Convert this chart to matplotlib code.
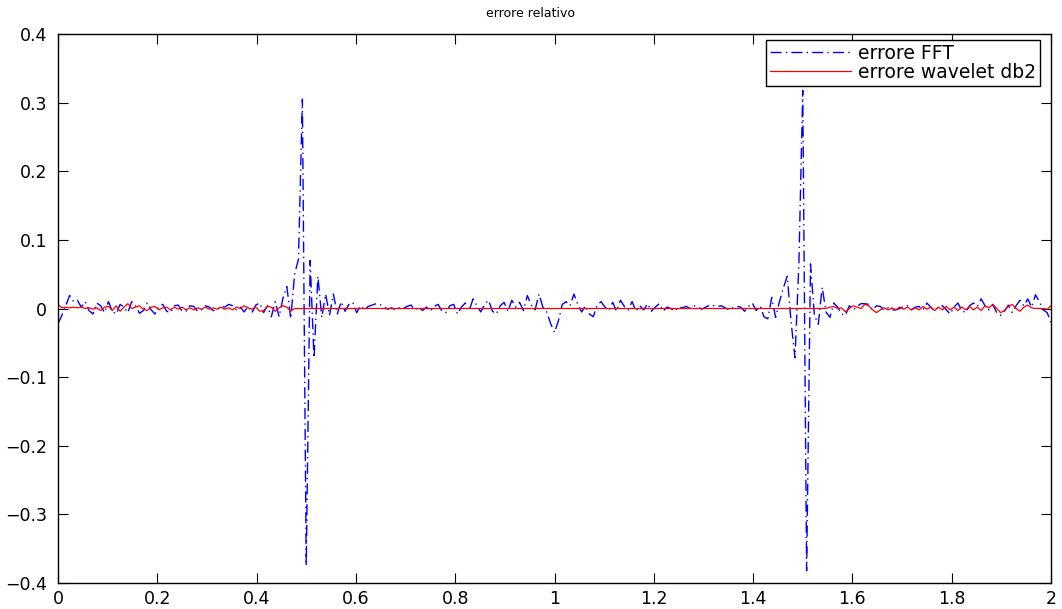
import numpy as np
import matplotlib
matplotlib.use("Agg")
import matplotlib.pyplot as plt

plt.rcParams['font.family'] = ['DejaVu Sans']

# sample grid (257 samples on [0, 2])
n_samples = 257
x_start, x_end = 0.0, 2.0

# FFT relative error
err_fft = [
    -0.022, -0.010, 0.004, 0.019, 0.010, 0.012, 0.002, 0.010, -0.003, -0.008,
    0.008, 0.004, -0.006, 0.010, -0.004, -0.008, 0.006, 0.002, -0.006, 0.010,
    0.004, -0.007, -0.003, 0.008, -0.002, -0.008, 0.003, 0.006, -0.004, -0.006,
    0.004, 0.005, -0.004, -0.004, 0.004, 0.003, -0.004, -0.002, 0.004, 0.002,
    -0.003, -0.002, 0.003, 0.002, 0.006, 0.004, -0.002, 0.002, -0.005, 0.003,
    -0.006, 0.005, 0.008, -0.006, 0.004, -0.012, 0.010, -0.012, 0.015, 0.032,
    -0.015, 0.050, 0.072, 0.305, -0.375, 0.070, -0.072, 0.047, -0.013, 0.021,
    -0.010, 0.021, -0.008, 0.010, -0.004, 0.006, 0.009, -0.006, 0.004, -0.002,
    0.003, 0.005, 0.007, 0.006, 0.002, -0.001, 0.001, -0.002, 0.001, 0.000,
    0.003, 0.005, -0.002, 0.002, -0.003, 0.002, -0.004, 0.003, 0.006, -0.004,
    -0.006, 0.004, 0.006, -0.008, 0.002, 0.008, -0.003, 0.014, 0.004, -0.005,
    0.006, 0.012, -0.004, -0.008, 0.004, 0.009, -0.004, 0.012, 0.002, 0.009,
    -0.003, 0.019, 0.005, -0.002, 0.021, 0.002, -0.005, -0.022, -0.035, -0.018,
    0.006, 0.010, 0.004, 0.021, 0.006, -0.005, 0.004, -0.008, -0.012, 0.005,
    0.010, 0.002, -0.003, 0.009, -0.004, 0.012, 0.003, -0.002, 0.010, -0.004,
    0.004, -0.002, 0.007, -0.004, 0.002, 0.007, -0.004, 0.002, 0.000, -0.004,
    0.002, 0.001, 0.003, 0.000, 0.004, 0.002, -0.001, 0.002, 0.005, 0.004,
    0.003, 0.004, 0.001, -0.002, 0.001, 0.003, 0.002, -0.004, 0.003, 0.008,
    -0.003, 0.004, -0.012, -0.015, 0.016, -0.013, 0.010, 0.030, 0.047, -0.020,
    -0.072, 0.065, 0.318, -0.382, 0.065, -0.010, -0.023, 0.031, -0.005, -0.013,
    0.008, 0.002, -0.008, -0.010, 0.004, -0.002, 0.003, 0.007, 0.007, 0.006,
    -0.002, 0.004, 0.003, -0.002, 0.001, -0.002, -0.002, 0.000, 0.003, 0.004,
    -0.002, 0.002, 0.003, -0.002, 0.008, 0.002, -0.003, 0.002, 0.004, -0.002,
    -0.008, 0.002, 0.008, -0.003, -0.006, 0.004, 0.008, 0.003, 0.014, 0.004,
    -0.002, 0.006, -0.006, -0.010, -0.004, 0.005, -0.006, 0.004, 0.012, 0.004,
    0.014, 0.002, 0.020, 0.010, -0.002, -0.006, -0.020,
]

# wavelet db2 relative error
err_wavelet = [
    0.006, 0.001, 0.002, 0.001, 0.002, 0.001, 0.002, 0.000, 0.001, -0.001,
    0.001, -0.003, 0.002, 0.003, -0.003, 0.004, -0.004, 0.002, 0.007, 0.000,
    0.002, 0.004, -0.001, -0.003, 0.002, 0.003, -0.002, 0.001, 0.002, -0.002,
    0.002, -0.001, 0.002, -0.002, 0.001, -0.002, 0.001, -0.001, 0.002, -0.001,
    0.001, -0.001, 0.002, -0.001, 0.001, -0.002, 0.002, 0.000, 0.004, 0.001,
    -0.001, 0.002, -0.004, -0.003, 0.003, 0.002, -0.004, 0.001, 0.004, 0.002,
    -0.004, 0.000, 0.000, 0.000, 0.000, 0.000, 0.000, 0.000, 0.000, 0.000,
    0.000, 0.000, 0.000, 0.000, 0.000, 0.000, 0.000, 0.000, 0.000, 0.000,
    0.000, 0.000, 0.000, 0.000, 0.000, 0.000, 0.000, 0.000, 0.000, 0.000,
    0.000, 0.000, 0.000, 0.000, 0.000, 0.000, 0.000, 0.000, 0.000, 0.000,
    0.000, 0.000, 0.000, 0.000, 0.000, 0.000, 0.000, 0.000, 0.000, 0.000,
    0.000, 0.000, 0.000, 0.000, 0.000, 0.000, 0.000, 0.000, 0.000, 0.000,
    0.000, 0.000, 0.000, 0.000, 0.000, 0.000, 0.000, 0.000, 0.000, 0.000,
    0.000, 0.000, 0.000, 0.000, 0.000, 0.000, 0.000, 0.000, 0.000, 0.000,
    0.000, 0.000, 0.000, 0.000, 0.000, 0.000, 0.000, 0.000, 0.000, 0.000,
    0.000, 0.000, 0.000, 0.000, 0.000, 0.000, 0.000, 0.000, 0.000, 0.000,
    0.000, 0.000, 0.000, 0.000, 0.000, 0.000, 0.000, 0.000, 0.000, 0.000,
    0.000, 0.000, 0.000, 0.000, 0.000, 0.000, 0.000, 0.000, 0.000, 0.000,
    0.000, 0.000, 0.000, 0.000, 0.000, 0.000, 0.000, 0.000, 0.000, 0.000,
    0.000, 0.000, 0.000, 0.000, 0.000, 0.000, 0.000, 0.000, 0.000, 0.002,
    0.003, 0.000, 0.001, -0.005, 0.000, 0.004, 0.002, 0.000, 0.006, 0.004,
    -0.002, -0.006, -0.002, 0.001, -0.002, 0.001, -0.002, 0.002, -0.001, 0.002,
    -0.002, 0.001, -0.002, 0.003, -0.001, 0.002, -0.003, 0.002, -0.002, 0.003,
    -0.002, 0.002, -0.003, 0.002, -0.002, 0.003, -0.002, 0.002, -0.003, 0.004,
    0.001, 0.006, 0.000, -0.006, -0.003, 0.003, 0.006, 0.000, -0.004, 0.002,
    0.005, 0.001, 0.000, 0.000, 0.000, -0.001, 0.004,
]

x_ticks = [0, 0.2, 0.4, 0.6, 0.8, 1, 1.2, 1.4, 1.6, 1.8, 2]
x_ticklabels = ["0", "0.2", "0.4", "0.6", "0.8", "1", "1.2", "1.4", "1.6", "1.8", "2"]
y_ticks = [-0.4, -0.3, -0.2, -0.1, 0, 0.1, 0.2, 0.3, 0.4]
y_ticklabels = ["\u22120.4", "\u22120.3", "\u22120.2", "\u22120.1", "0", "0.1", "0.2", "0.3", "0.4"]

x = np.linspace(x_start, x_end, n_samples)

fig = plt.figure(figsize=(10.62, 6.09), dpi=100)
ax = fig.add_axes([58 / 1062, 26 / 609, 993 / 1062, 549 / 609])

ax.plot(x, err_fft, color=(0, 0, 1), linestyle=(0, (8, 3, 1, 3)), linewidth=1.0,
        label="errore FFT")
ax.plot(x, err_wavelet, color=(1, 0, 0), linestyle="-", linewidth=0.9,
        label="errore wavelet db2")

ax.set_xlim(0, 2)
ax.set_ylim(-0.4, 0.4)
ax.set_xticks(x_ticks)
ax.set_xticklabels(x_ticklabels)
ax.set_yticks(y_ticks)
ax.set_yticklabels(y_ticklabels)
ax.tick_params(direction="in", length=7, width=0.8, top=True, right=True,
               labelsize=12.5, colors="black")
ax.tick_params(axis="y", pad=8)
ax.tick_params(axis="x", pad=5)
for s in ax.spines.values():
    s.set_linewidth(1.0)
    s.set_color("black")

ax.set_title("errore relativo", fontsize=9, pad=12, x=(531 - 58) / 993)

leg = ax.legend(loc="upper right", bbox_to_anchor=((1040 - 58) / 993, (583 - 40) / 549),
                borderaxespad=0, fontsize=13.5, frameon=True, fancybox=False,
                edgecolor="black", framealpha=1, borderpad=0.2,
                labelspacing=0.0, handlelength=4.3, handletextpad=0.4)
leg.get_frame().set_linewidth(1.0)

fig.savefig("out.png", dpi=100)
